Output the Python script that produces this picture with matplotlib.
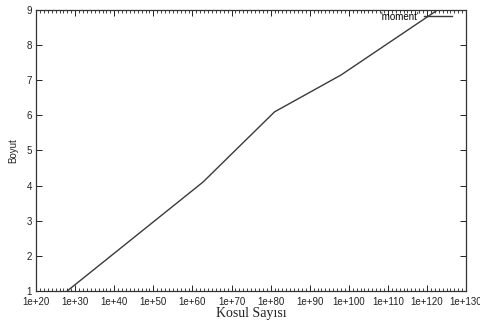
import numpy as np
import matplotlib.pyplot as plt
from matplotlib.ticker import FixedLocator, FuncFormatter

# kosul sayisi (log10) ve boyut degerleri
kosul_us = [28, 62.7, 81, 98, 124]
boyut = [1.0, 4.1, 6.1, 7.15, 9.1]
x_etiket_us = list(range(20, 131, 10))
y_etiket = list(range(1, 10))

kosul = [10.0**u for u in kosul_us]

fig = plt.figure(figsize=(4.81, 3.25), dpi=100)
ax = fig.add_axes([0.075, 0.105, 0.894, 0.864])

ax.plot(kosul, boyut, color='#3a3a3a', lw=1.0, label="'moment'")
ax.set_xscale('log')
ax.set_xlim(1e20, 1e130)
ax.set_ylim(1, 9)

ax.xaxis.set_major_locator(FixedLocator([10.0**u for u in x_etiket_us]))
ax.xaxis.set_minor_locator(FixedLocator([10.0**u for u in range(20, 131)]))
ax.xaxis.set_major_formatter(FuncFormatter(lambda v, p: '1e+%d' % round(np.log10(v))))
ax.xaxis.set_minor_formatter(FuncFormatter(lambda v, p: ''))
ax.set_yticks(y_etiket)

ax.tick_params(which='both', direction='in', top=True, right=True,
               labelsize=7, colors='#222222', pad=3)
ax.tick_params(axis='x', which='major', pad=4.5)
ax.tick_params(which='major', length=4, width=0.7)
ax.tick_params(which='minor', length=2, width=0.6)
for lab in ax.get_xticklabels() + ax.get_yticklabels():
    lab.set_fontfamily('Liberation Sans')
for s in ax.spines.values():
    s.set_color('#333333')
    s.set_linewidth(0.9)

ax.set_xlabel('Kosul Sayısı', fontfamily='Liberation Serif', fontsize=10, labelpad=0, color='#222222')
ax.set_ylabel('Boyut', fontfamily='Liberation Sans', fontsize=7, labelpad=6, color='#222222')

leg = ax.legend(loc='upper right', bbox_to_anchor=(0.977, 1.008), frameon=False,
                prop={'family': 'Liberation Sans', 'size': 7},
                handlelength=2.9, handletextpad=0.5, markerfirst=False,
                borderaxespad=0)

fig.savefig('out.png', dpi=100)
